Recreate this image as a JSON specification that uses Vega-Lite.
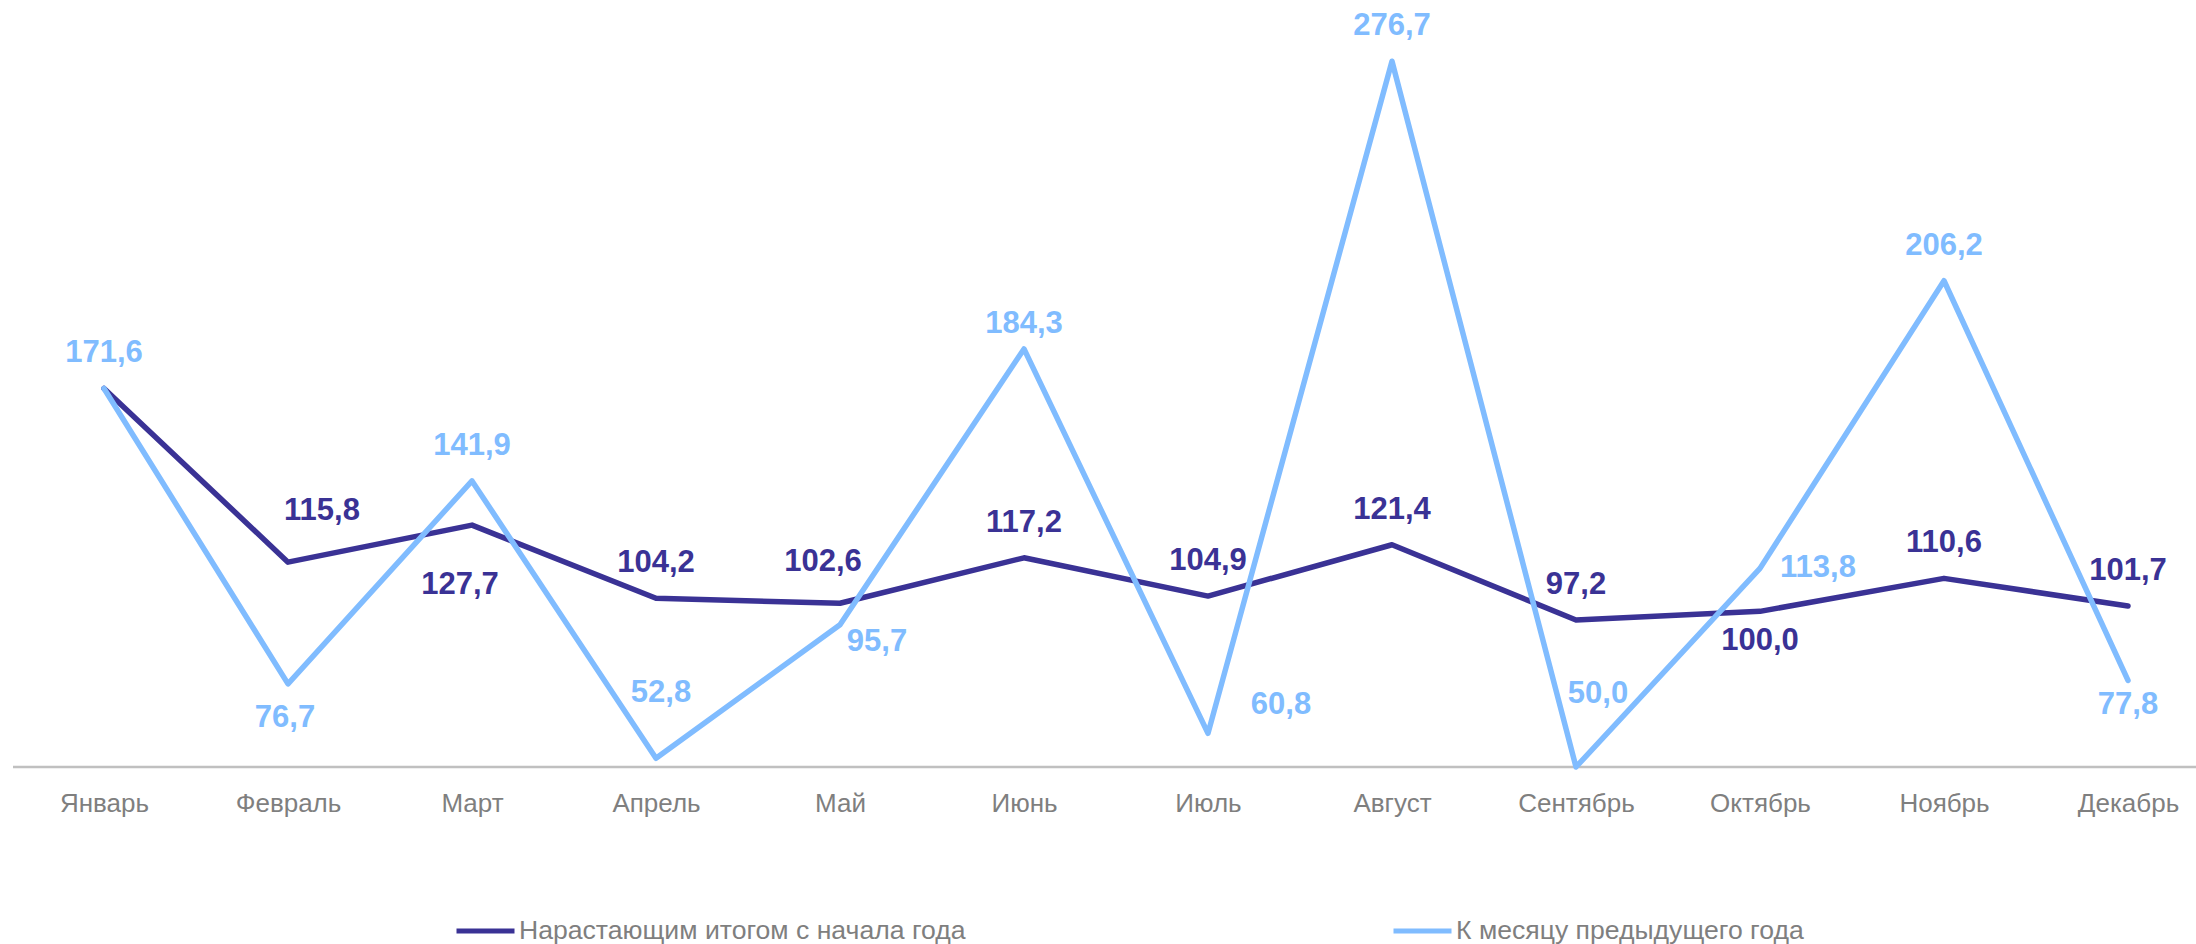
{
  "$schema": "https://vega.github.io/schema/vega-lite/v6.json",
  "width": 2183,
  "height": 716,
  "autosize": {"type": "none"},
  "padding": {"left": 13, "top": 51, "right": 0, "bottom": 177},
  "background": "white",
  "config": {
    "view": {"stroke": null},
    "locale": {"number": {"decimal": ",", "thousands": " ", "grouping": [3], "currency": ["", ""]}},
    "text": {"font": "Liberation Sans", "fontSize": 31, "fontWeight": "bold", "align": "center", "baseline": "middle"},
    "axis": {"domain": false, "ticks": false, "tickSize": 0, "grid": false, "labelFont": "Liberation Sans", "labelFontSize": 26, "labelColor": "#7f7f7f", "labelPadding": 23},
    "legend": {"orient": "none", "legendX": 441, "legendY": 848, "direction": "horizontal", "title": null, "symbolType": "stroke", "symbolSize": 3364, "symbolStrokeWidth": 5, "labelFont": "Liberation Sans", "labelFontSize": 26.6, "labelColor": "#7f7f7f", "labelOffset": 2, "columnPadding": 417, "padding": 0, "labelLimit": 1000}
  },
  "data": {"values": [
    {"month": "Январь", "series": "Нарастающим итогом с начала года", "value": 171.6},
    {"month": "Февраль", "series": "Нарастающим итогом с начала года", "value": 115.8},
    {"month": "Март", "series": "Нарастающим итогом с начала года", "value": 127.7},
    {"month": "Апрель", "series": "Нарастающим итогом с начала года", "value": 104.2},
    {"month": "Май", "series": "Нарастающим итогом с начала года", "value": 102.6},
    {"month": "Июнь", "series": "Нарастающим итогом с начала года", "value": 117.2},
    {"month": "Июль", "series": "Нарастающим итогом с начала года", "value": 104.9},
    {"month": "Август", "series": "Нарастающим итогом с начала года", "value": 121.4},
    {"month": "Сентябрь", "series": "Нарастающим итогом с начала года", "value": 97.2},
    {"month": "Октябрь", "series": "Нарастающим итогом с начала года", "value": 100.0},
    {"month": "Ноябрь", "series": "Нарастающим итогом с начала года", "value": 110.6},
    {"month": "Декабрь", "series": "Нарастающим итогом с начала года", "value": 101.7},
    {"month": "Январь", "series": "К месяцу предыдущего года", "value": 171.6},
    {"month": "Февраль", "series": "К месяцу предыдущего года", "value": 76.7},
    {"month": "Март", "series": "К месяцу предыдущего года", "value": 141.9},
    {"month": "Апрель", "series": "К месяцу предыдущего года", "value": 52.8},
    {"month": "Май", "series": "К месяцу предыдущего года", "value": 95.7},
    {"month": "Июнь", "series": "К месяцу предыдущего года", "value": 184.3},
    {"month": "Июль", "series": "К месяцу предыдущего года", "value": 60.8},
    {"month": "Август", "series": "К месяцу предыдущего года", "value": 276.7},
    {"month": "Сентябрь", "series": "К месяцу предыдущего года", "value": 50.0},
    {"month": "Октябрь", "series": "К месяцу предыдущего года", "value": 113.8},
    {"month": "Ноябрь", "series": "К месяцу предыдущего года", "value": 206.2},
    {"month": "Декабрь", "series": "К месяцу предыдущего года", "value": 77.8}
  ]},
  "layer": [
    {
      "data": {"values": [{}]},
      "mark": {"type": "rule", "color": "#c0c0c0", "strokeWidth": 2.5},
      "encoding": {"y": {"datum": 50, "scale": {"domain": [50, 280], "nice": false, "zero": false}, "axis": null}}
    },
    {
      "transform": [{"filter": {"field": "series", "equal": "Нарастающим итогом с начала года"}}],
      "mark": {"type": "line", "strokeWidth": 5.5, "strokeCap": "round", "strokeJoin": "round"},
      "encoding": {
        "x": {"field": "month", "type": "ordinal", "sort": ["Январь","Февраль","Март","Апрель","Май","Июнь","Июль","Август","Сентябрь","Октябрь","Ноябрь","Декабрь"], "scale": {"type": "point", "range": [91, 2115], "padding": 0}, "axis": {"labelAngle": 0}, "title": null},
        "y": {"field": "value", "type": "quantitative", "scale": {"domain": [50, 280], "nice": false, "zero": false}, "axis": null},
        "color": {"field": "series", "type": "nominal", "scale": {"domain": ["Нарастающим итогом с начала года", "К месяцу предыдущего года"], "range": ["#3a3295", "#80bcff"]}}
      }
    },
    {
      "transform": [{"filter": {"field": "series", "equal": "К месяцу предыдущего года"}}],
      "mark": {"type": "line", "strokeWidth": 5.5, "strokeCap": "round", "strokeJoin": "round"},
      "encoding": {
        "x": {"field": "month", "type": "ordinal", "sort": ["Январь","Февраль","Март","Апрель","Май","Июнь","Июль","Август","Сентябрь","Октябрь","Ноябрь","Декабрь"], "title": null},
        "y": {"field": "value", "type": "quantitative", "axis": null},
        "color": {"field": "series", "type": "nominal"}
      }
    },
    {
      "layer": [
        {"transform": [{"filter": {"and": [{"field": "series", "equal": "Нарастающим итогом с начала года"}, {"field": "month", "oneOf": ["Апрель","Июнь","Июль","Август","Сентябрь","Ноябрь","Декабрь"]}]}}],
         "mark": {"type": "text", "dy": -35, "color": "#3a3295"}},
        {"transform": [{"filter": {"and": [{"field": "series", "equal": "Нарастающим итогом с начала года"}, {"field": "month", "equal": "Февраль"}]}}],
         "mark": {"type": "text", "dx": 34, "dy": -51, "color": "#3a3295"}},
        {"transform": [{"filter": {"and": [{"field": "series", "equal": "Нарастающим итогом с начала года"}, {"field": "month", "equal": "Март"}]}}],
         "mark": {"type": "text", "dx": -12, "dy": 60, "color": "#3a3295"}},
        {"transform": [{"filter": {"and": [{"field": "series", "equal": "Нарастающим итогом с начала года"}, {"field": "month", "equal": "Май"}]}}],
         "mark": {"type": "text", "dx": -17, "dy": -41, "color": "#3a3295"}},
        {"transform": [{"filter": {"and": [{"field": "series", "equal": "Нарастающим итогом с начала года"}, {"field": "month", "equal": "Октябрь"}]}}],
         "mark": {"type": "text", "dy": 30, "color": "#3a3295"}},
        {"transform": [{"filter": {"and": [{"field": "series", "equal": "К месяцу предыдущего года"}, {"field": "month", "oneOf": ["Январь","Март","Август","Ноябрь"]}]}}],
         "mark": {"type": "text", "dy": -35, "align": "center", "color": "#80bcff"}},
        {"transform": [{"filter": {"and": [{"field": "series", "equal": "К месяцу предыдущего года"}, {"field": "month", "equal": "Февраль"}]}}],
         "mark": {"type": "text", "dx": -3, "dy": 34, "color": "#80bcff"}},
        {"transform": [{"filter": {"and": [{"field": "series", "equal": "К месяцу предыдущего года"}, {"field": "month", "equal": "Декабрь"}]}}],
         "mark": {"type": "text", "dy": 25, "color": "#80bcff"}},
        {"transform": [{"filter": {"and": [{"field": "series", "equal": "К месяцу предыдущего года"}, {"field": "month", "equal": "Апрель"}]}}],
         "mark": {"type": "text", "dx": 5, "dy": -65, "color": "#80bcff"}},
        {"transform": [{"filter": {"and": [{"field": "series", "equal": "К месяцу предыдущего года"}, {"field": "month", "equal": "Сентябрь"}]}}],
         "mark": {"type": "text", "dx": 22, "dy": -73, "color": "#80bcff"}},
        {"transform": [{"filter": {"and": [{"field": "series", "equal": "К месяцу предыдущего года"}, {"field": "month", "equal": "Май"}]}}],
         "mark": {"type": "text", "dx": 37, "dy": 17, "color": "#80bcff"}},
        {"transform": [{"filter": {"and": [{"field": "series", "equal": "К месяцу предыдущего года"}, {"field": "month", "equal": "Июнь"}]}}],
         "mark": {"type": "text", "dy": -25, "color": "#80bcff"}},
        {"transform": [{"filter": {"and": [{"field": "series", "equal": "К месяцу предыдущего года"}, {"field": "month", "equal": "Июль"}]}}],
         "mark": {"type": "text", "dx": 73, "dy": -28, "color": "#80bcff"}},
        {"transform": [{"filter": {"and": [{"field": "series", "equal": "К месяцу предыдущего года"}, {"field": "month", "equal": "Октябрь"}]}}],
         "mark": {"type": "text", "dx": 58, "dy": 0, "color": "#80bcff"}}
      ],
      "encoding": {
        "x": {"field": "month", "type": "ordinal", "sort": ["Январь","Февраль","Март","Апрель","Май","Июнь","Июль","Август","Сентябрь","Октябрь","Ноябрь","Декабрь"], "title": null},
        "y": {"field": "value", "type": "quantitative", "axis": null},
        "text": {"field": "value", "type": "quantitative", "format": ".1f"}
      }
    }
  ],
  "resolve": {"scale": {"x": "shared", "y": "shared"}}
}
